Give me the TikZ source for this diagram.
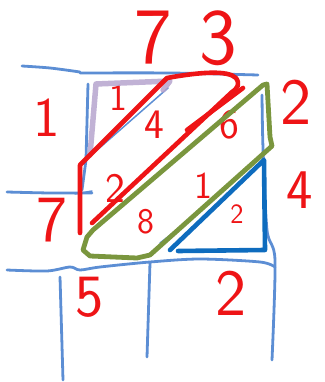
\documentclass[tikz,border=0pt]{standalone}
\definecolor{gridblue}{RGB}{92,142,212}
\definecolor{penred}{RGB}{238,20,22}
\definecolor{pengreen}{RGB}{122,150,62}
\definecolor{penblue}{RGB}{14,108,190}
\definecolor{penlilac}{RGB}{182,164,206}
\begin{document}
\begin{tikzpicture}[x=1pt, y=-1pt, line cap=round, line join=round,
  grid/.style={draw=gridblue, line width=2.8pt},
  gridthin/.style={draw=gridblue, line width=1.5pt},
  redpen/.style={draw=penred, line width=4.6pt},
  greenpen/.style={draw=pengreen, line width=4.8pt},
  bluepen/.style={draw=penblue, line width=4.6pt},
  lilacpen/.style={draw=penlilac, line width=5.5pt},
  digit/.style={text=penred, inner sep=0pt, font=\sffamily\fontsize{#1}{#1}\selectfont}]
\useasboundingbox (0,0) rectangle (324,382);

% the grid, drawn in light blue
\draw[grid] plot[smooth] coordinates {(22,66) (50,68) (80,72)};
\draw[grid] plot[smooth] coordinates {(80,73) (170,73) (258,75)};
\draw[grid] (88,84) -- (86,160) -- (82,190);
\draw[grid] plot[smooth] coordinates {(7,192) (50,193) (92,193)};
\draw[grid] plot[smooth] coordinates {(262,95) (263,148) (267,230) (275,260) (272,360)};
\draw[grid] plot[smooth] coordinates {(7,270) (47,271) (70,267) (80,270) (100,267) (150,262) (200,259) (260,262) (275,267)};
\draw[grid] (60,277) -- (63,380);
\draw[grid] (150,263) -- (147,357);
\draw[gridthin] (88,158) -- (168,88);
\draw[gridthin] (160,243) -- (182,226);
\draw[gridthin] (75,194) -- (92,191);

% multiplier and multiplicand
\node[digit=80] (t7) at (153,38) {7};
\node[digit=80] (t3) at (218,38) {3};
\node[digit=56] (l1) at (47,118) {1};
\node[digit=66] (l7) at (52,220) {7};
\node[digit=66] (r2) at (296,102) {2};
\node[digit=56] (r4) at (300,190) {4};
\node[digit=60] (b5) at (90,297) {5};
\node[digit=66] (b2) at (231,293) {2};

% partial products in the cells
\node[digit=38] (c1) at (118,98) {1};
\node[digit=42] (c4) at (154,125) {4};
\node[digit=42] (c6) at (229,125) {6};
\node[digit=42] (c2) at (115,188) {2};
\node[digit=38] (c1b) at (203,186) {1};
\node[digit=36] (c8) at (146,222) {8};
\node[digit=28] (c2b) at (237,214) {2};

% diagonal bands marked in colour
\draw[lilacpen, opacity=0.85] (90,155) -- (96,84) -- (170,81) -- (163,90);
\draw[redpen] (80,233) -- (80,165) -- (167,78) .. controls (200,72) and (228,70) .. (236,78)
  .. controls (240,84) and (238,88) .. (232,92) -- (92,223);
\draw[redpen] (243,88) -- (187,130);
\draw[greenpen] (263,85) -- (267,84) -- (270,137) -- (272,146) -- (150,255) -- (137,258)
  -- (90,256) -- (83,250) -- (87,237) -- (93,230) -- (263,85);
\draw[bluepen] (170,250) -- (264,160) -- (265,250) -- (178,251);

\end{tikzpicture}
\end{document}
